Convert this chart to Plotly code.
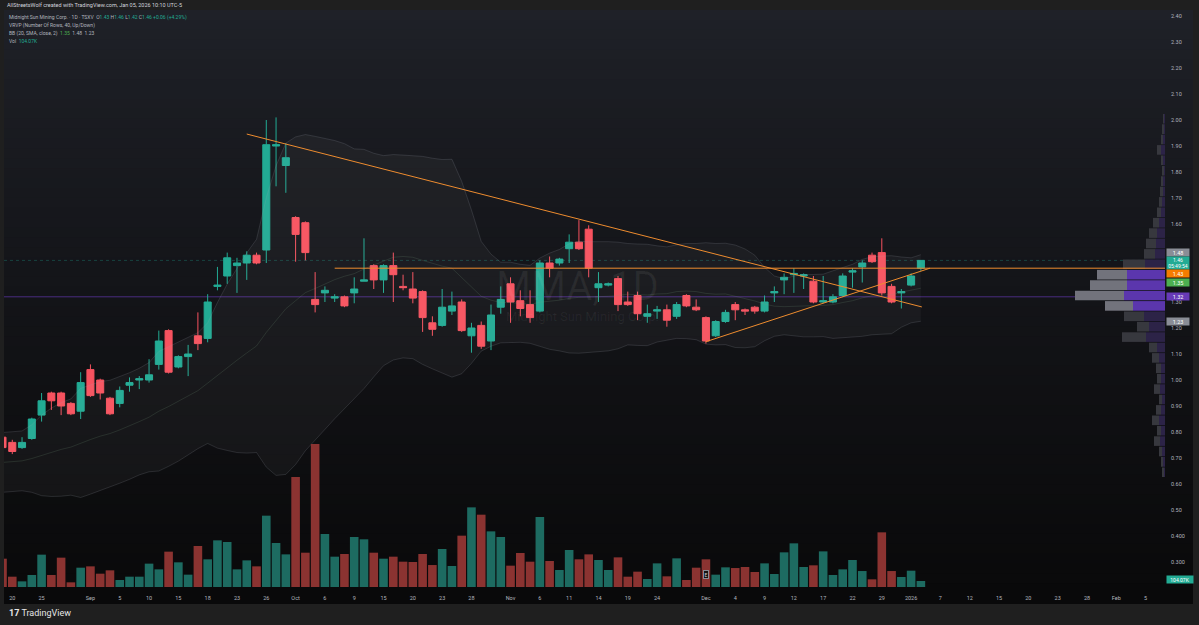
import plotly.graph_objects as go

# Midnight Sun Mining Corp. (TSXV: MMA) daily bars
dates = [
    "2025-08-19", "2025-08-20", "2025-08-21", "2025-08-22", "2025-08-25", "2025-08-26", "2025-08-27", "2025-08-28", "2025-08-29",
    "2025-09-02", "2025-09-03", "2025-09-04", "2025-09-05", "2025-09-08", "2025-09-09", "2025-09-10", "2025-09-11", "2025-09-12",
    "2025-09-15", "2025-09-16", "2025-09-17", "2025-09-18", "2025-09-19", "2025-09-22", "2025-09-23", "2025-09-24", "2025-09-25",
    "2025-09-26", "2025-09-29", "2025-09-30",
    "2025-10-01", "2025-10-02", "2025-10-03", "2025-10-06", "2025-10-07", "2025-10-08", "2025-10-09", "2025-10-10", "2025-10-14",
    "2025-10-15", "2025-10-16", "2025-10-17", "2025-10-20", "2025-10-21", "2025-10-22", "2025-10-23", "2025-10-24", "2025-10-27",
    "2025-10-28", "2025-10-29", "2025-10-30", "2025-10-31",
    "2025-11-03", "2025-11-04", "2025-11-05", "2025-11-06", "2025-11-07", "2025-11-10", "2025-11-11", "2025-11-12", "2025-11-13",
    "2025-11-14", "2025-11-17", "2025-11-18", "2025-11-19", "2025-11-20", "2025-11-21", "2025-11-24", "2025-11-25", "2025-11-26",
    "2025-11-27", "2025-11-28",
    "2025-12-01", "2025-12-02", "2025-12-03", "2025-12-04", "2025-12-05", "2025-12-08", "2025-12-09", "2025-12-10", "2025-12-11",
    "2025-12-12", "2025-12-15", "2025-12-16", "2025-12-17", "2025-12-18", "2025-12-19", "2025-12-22", "2025-12-23", "2025-12-24",
    "2025-12-29", "2025-12-30", "2025-12-31",
    "2026-01-02", "2026-01-05",
]
opens = [
    0.78, 0.76, 0.74, 0.775, 0.865, 0.95, 0.95, 0.91, 0.88,
    1.04, 1.00, 0.93, 0.91, 0.98, 1.00, 1.00, 1.06, 1.19, 1.05, 1.09, 1.17, 1.16, 1.36, 1.40, 1.44, 1.45, 1.48, 1.50, 1.90, 1.825,
    1.625, 1.605, 1.31, 1.335, 1.315, 1.32, 1.335, 1.38, 1.44, 1.385, 1.44, 1.36, 1.35, 1.34, 1.22, 1.21, 1.265, 1.30, 1.17, 1.21, 1.15, 1.28,
    1.37, 1.305, 1.29, 1.265, 1.45, 1.45, 1.505, 1.53, 1.58, 1.355, 1.365, 1.39, 1.30, 1.325, 1.245, 1.265, 1.27, 1.245, 1.325, 1.28,
    1.24, 1.17, 1.225, 1.29, 1.27, 1.28, 1.265, 1.335, 1.385, 1.405, 1.40, 1.38, 1.30, 1.30, 1.325, 1.415, 1.435, 1.48, 1.49, 1.36, 1.335,
    1.365, 1.43,
]
highs = [
    0.79, 0.77, 0.78, 0.855, 0.95, 0.955, 0.955, 0.915, 1.03,
    1.06, 1.005, 0.935, 0.975, 1.01, 1.015, 1.08, 1.19, 1.195, 1.095, 1.135, 1.26, 1.33, 1.435, 1.49, 1.47, 1.495, 1.49, 2.00, 2.01, 1.91,
    1.63, 1.61, 1.415, 1.36, 1.33, 1.325, 1.395, 1.545, 1.445, 1.445, 1.49, 1.405, 1.415, 1.345, 1.245, 1.35, 1.34, 1.31, 1.22, 1.225, 1.29, 1.36,
    1.395, 1.345, 1.345, 1.46, 1.475, 1.47, 1.56, 1.615, 1.595, 1.415, 1.375, 1.40, 1.34, 1.34, 1.29, 1.285, 1.29, 1.30, 1.33, 1.31,
    1.245, 1.23, 1.27, 1.30, 1.275, 1.285, 1.325, 1.36, 1.41, 1.43, 1.41, 1.40, 1.40, 1.33, 1.41, 1.43, 1.46, 1.49, 1.545, 1.37, 1.35,
    1.41, 1.46,
]
lows = [
    0.73, 0.715, 0.735, 0.77, 0.84, 0.885, 0.865, 0.865, 0.85,
    0.935, 0.925, 0.865, 0.895, 0.955, 0.965, 0.99, 1.04, 1.025, 1.045, 1.015, 1.115, 1.145, 1.345, 1.37, 1.335, 1.385, 1.445, 1.45, 1.745, 1.72,
    1.455, 1.46, 1.26, 1.30, 1.30, 1.28, 1.295, 1.38, 1.35, 1.335, 1.30, 1.345, 1.295, 1.185, 1.17, 1.205, 1.25, 1.185, 1.105, 1.12, 1.115, 1.255,
    1.22, 1.245, 1.22, 1.26, 1.395, 1.44, 1.45, 1.50, 1.395, 1.30, 1.36, 1.265, 1.285, 1.23, 1.22, 1.235, 1.205, 1.235, 1.28, 1.265,
    1.14, 1.165, 1.22, 1.23, 1.25, 1.255, 1.26, 1.30, 1.33, 1.335, 1.35, 1.295, 1.295, 1.295, 1.32, 1.355, 1.375, 1.45, 1.325, 1.295, 1.275,
    1.36, 1.42,
]
closes = [
    0.74, 0.725, 0.76, 0.85, 0.92, 0.92, 0.90, 0.87, 0.99,
    0.94, 0.95, 0.87, 0.96, 0.99, 1.005, 1.02, 1.15, 1.03, 1.09, 1.10, 1.14, 1.30, 1.365, 1.47, 1.45, 1.48, 1.45, 1.905, 1.905, 1.855,
    1.56, 1.49, 1.29, 1.345, 1.32, 1.285, 1.35, 1.385, 1.385, 1.44, 1.405, 1.355, 1.315, 1.24, 1.195, 1.28, 1.285, 1.19, 1.20, 1.13, 1.25, 1.31,
    1.30, 1.275, 1.24, 1.45, 1.43, 1.465, 1.53, 1.505, 1.43, 1.37, 1.37, 1.29, 1.29, 1.255, 1.255, 1.27, 1.23, 1.29, 1.285, 1.27,
    1.15, 1.225, 1.26, 1.27, 1.265, 1.265, 1.30, 1.34, 1.395, 1.41, 1.405, 1.30, 1.305, 1.32, 1.40, 1.42, 1.45, 1.455, 1.335, 1.30, 1.34,
    1.40, 1.46,
]
volume_k = [
    491, 179, 98, 208, 561, 208, 509, 81, 335,
    358, 231, 289, 121, 179, 179, 405, 306, 613, 428, 214, 711, 480, 809, 780, 306, 462, 358, 1237, 763, 566,
    1907, 595, 2480, 919, 526, 572, 867, 827, 595, 491, 526, 439, 434, 572, 381, 659, 364, 890, 1381, 1254, 965, 867,
    370, 590, 439, 1214, 451, 295, 642, 480, 566, 468, 295, 514, 179, 266, 139, 410, 185, 497, 121, 335,
    480, 214, 341, 329, 347, 260, 410, 225, 601, 757, 347, 376, 618, 208, 306, 468, 277, 133, 948, 277, 173,
    283, 104.07,
]

# Bollinger Bands (20, SMA, close, 2) as drawn
bb_basis = [
    0.683, 0.685, 0.689, 0.698, 0.710, 0.722, 0.733, 0.742, 0.758, 0.771,
    0.784, 0.794, 0.808, 0.823, 0.840, 0.857, 0.880, 0.898, 0.918, 0.939,
    0.959, 0.988, 1.018, 1.049, 1.076, 1.104, 1.131, 1.183, 1.229, 1.274,
    1.305, 1.336, 1.352, 1.370, 1.386, 1.399, 1.409, 1.427, 1.442, 1.459,
    1.472, 1.475, 1.472, 1.460, 1.448, 1.438, 1.430, 1.394, 1.359, 1.322,
    1.307, 1.298, 1.298, 1.295, 1.291, 1.299, 1.303, 1.307, 1.314, 1.318,
    1.319, 1.320, 1.322, 1.325, 1.330, 1.328, 1.327, 1.331, 1.332, 1.340,
    1.342, 1.340, 1.333, 1.330, 1.331, 1.322, 1.314, 1.304, 1.292, 1.284,
    1.282, 1.284, 1.286, 1.286, 1.287, 1.290, 1.298, 1.305, 1.316, 1.324,
    1.327, 1.328, 1.338, 1.345, 1.353,
]
bb_upper = [
    0.798, 0.800, 0.804, 0.828, 0.865, 0.892, 0.913, 0.927, 0.968, 0.981,
    0.994, 0.999, 1.013, 1.028, 1.045, 1.067, 1.110, 1.128, 1.148, 1.166,
    1.182, 1.220, 1.298, 1.369, 1.431, 1.489, 1.541, 1.701, 1.824, 1.911,
    1.935, 1.944, 1.937, 1.930, 1.921, 1.909, 1.889, 1.887, 1.872, 1.863,
    1.867, 1.865, 1.862, 1.860, 1.853, 1.848, 1.849, 1.764, 1.654, 1.533,
    1.484, 1.453, 1.453, 1.445, 1.441, 1.469, 1.488, 1.502, 1.524, 1.533,
    1.532, 1.533, 1.532, 1.530, 1.525, 1.523, 1.522, 1.516, 1.512, 1.520,
    1.525, 1.525, 1.528, 1.525, 1.526, 1.519, 1.504, 1.480, 1.433, 1.400,
    1.390, 1.400, 1.406, 1.406, 1.407, 1.420, 1.433, 1.445, 1.464, 1.474,
    1.477, 1.478, 1.473, 1.470, 1.482,
]
bb_lower = [
    0.568, 0.570, 0.574, 0.568, 0.555, 0.552, 0.553, 0.557, 0.548, 0.561,
    0.574, 0.589, 0.603, 0.618, 0.635, 0.647, 0.650, 0.668, 0.688, 0.712,
    0.736, 0.756, 0.738, 0.729, 0.721, 0.719, 0.721, 0.665, 0.633, 0.637,
    0.675, 0.728, 0.767, 0.810, 0.851, 0.889, 0.929, 0.967, 1.012, 1.055,
    1.077, 1.085, 1.082, 1.060, 1.043, 1.028, 1.011, 1.024, 1.064, 1.111,
    1.130, 1.143, 1.143, 1.145, 1.141, 1.129, 1.118, 1.112, 1.104, 1.103,
    1.106, 1.107, 1.112, 1.120, 1.135, 1.133, 1.132, 1.146, 1.152, 1.160,
    1.159, 1.155, 1.138, 1.135, 1.136, 1.125, 1.124, 1.128, 1.151, 1.168,
    1.174, 1.170, 1.166, 1.166, 1.167, 1.160, 1.163, 1.165, 1.168, 1.174,
    1.177, 1.178, 1.203, 1.220, 1.226,
]

# visible range volume profile (40 rows setting, only filled rows listed)
vp_price = [
    0.605, 0.645, 0.685, 0.725, 0.765, 0.805, 0.845, 0.885, 0.925, 0.965,
    1.005, 1.045, 1.085, 1.125, 1.165, 1.205, 1.245, 1.285, 1.325, 1.365,
    1.405, 1.445, 1.485, 1.525, 1.565, 1.605, 1.645, 1.685, 1.725, 1.765,
    1.805, 1.845, 1.885, 1.925, 1.965, 2.005,
]
vp_up_k = [0, 60, 120, 180, 300, 240, 360, 240, 180, 300,
           240, 240, 360, 480, 1140, 960, 1260, 1920, 2460, 2280,
           2280, 1200, 600, 540, 480, 360, 240, 180, 120, 120,
           60, 120, 240, 120, 60, 60]
vp_down_k = [0, 120, 120, 180, 360, 240, 420, 300, 180, 360,
             240, 300, 420, 480, 1440, 720, 1200, 1680, 2940, 2220,
             1800, 1320, 660, 600, 480, 360, 240, 180, 180, 120,
             120, 120, 240, 120, 120, 60]
value_area = (1.265, 1.425)
poc_price = 1.32

# user drawings (bar number, price)
trend_down_bar = [25, 94.1]
trend_down_px = [1.946, 1.281]
trend_up_bar = [71.97, 94.93]
trend_up_px = [1.147, 1.43]
hline_bar = 34
hline_price = 1.43

# time axis labels (bar number -> text), incl. future bars
tick_bars = [1, 4, 9, 12, 15, 18, 21, 24, 27, 30, 33, 36, 39, 42, 45, 48, 52, 55, 58, 61,
             64, 67, 72, 75, 78, 81, 84, 87, 90, 93, 96, 99, 102, 105, 108, 111, 114, 117]
tick_text = ["20", "25", "Sep", "5", "10", "15", "18", "23", "26", "Oct", "6", "9", "15", "20", "23", "28", "Nov", "6", "11", "14",
             "19", "24", "Dec", "4", "9", "12", "17", "22", "29", "2026", "7", "12", "15", "20", "23", "28", "Feb", "5"]
# 1.40 / 1.50 sit under the price tags, so they are not shown
price_ticks = [0.3, 0.4, 0.5, 0.6, 0.7, 0.8, 0.9, 1.0, 1.1, 1.2, 1.3, 1.6, 1.7, 1.8, 1.9, 2.0, 2.1, 2.2, 2.3, 2.4]
price_tick_text = ["0.300", "0.400", "0.50", "0.60", "0.70", "0.80", "0.90", "1.00", "1.10", "1.20", "1.30",
                   "1.60", "1.70", "1.80", "1.90", "2.00", "2.10", "2.20", "2.30", "2.40"]

UP, DOWN = "#22ab94", "#f7525f"
TXT = "#b2b5be"
FONT = "Roboto"

W, H = 1199, 625
ML, MR, MT, MB = 4, 34, 10, 38
PW, PH = W - ML - MR, H - MT - MB


def px(x):
    return (x - ML) / PW


def py(y):
    return (H - MB - y) / PH


bars = list(range(len(dates)))
is_up = [c >= o for o, c in zip(opens, closes)]

fig = go.Figure()

# bollinger fill + lines
fig.add_trace(go.Scatter(x=bars, y=bb_upper, mode="lines", line=dict(color="rgba(160,165,175,0.18)", width=1),
                         hoverinfo="skip"))
fig.add_trace(go.Scatter(x=bars, y=bb_lower, mode="lines", line=dict(color="rgba(160,165,175,0.18)", width=1),
                         fill="tonexty", fillcolor="rgba(255,255,255,0.035)", hoverinfo="skip"))
fig.add_trace(go.Scatter(x=bars, y=bb_basis, mode="lines", line=dict(color="rgba(120,160,125,0.18)", width=1),
                         hoverinfo="skip"))

# volume
fig.add_trace(go.Bar(x=bars, y=volume_k, yaxis="y3", width=0.88,
                     marker=dict(color=["#1d6b61" if u else "#8b3331" for u in is_up], line_width=0),
                     hoverinfo="skip"))

# volume profile (right side, grows leftwards)
in_va = [value_area[0] <= p <= value_area[1] for p in vp_price]
fig.add_trace(go.Bar(y=vp_price, x=vp_up_k, base=0, orientation="h", xaxis="x2", width=0.037,
                     marker=dict(color=["#5b36ad" if v else "#2c2347" for v in in_va], line_width=0),
                     hoverinfo="skip"))
fig.add_trace(go.Bar(y=vp_price, x=vp_down_k, base=vp_up_k, orientation="h", xaxis="x2", width=0.037,
                     marker=dict(color=["#72737c" if v else "#37383e" for v in in_va], line_width=0),
                     hoverinfo="skip"))

# candles
fig.add_trace(go.Candlestick(
    x=bars, open=opens, high=highs, low=lows, close=closes,
    increasing=dict(line=dict(color=UP, width=1), fillcolor=UP),
    decreasing=dict(line=dict(color=DOWN, width=1), fillcolor=DOWN),
    whiskerwidth=0, hoverinfo="skip",
))

# drawings
fig.add_trace(go.Scatter(x=trend_down_bar, y=trend_down_px, mode="lines", line=dict(color="#ee8c2f", width=1),
                         hoverinfo="skip"))
fig.add_trace(go.Scatter(x=trend_up_bar, y=trend_up_px, mode="lines", line=dict(color="#ee8c2f", width=1),
                         hoverinfo="skip"))

x_range = [(ML - 2.5) / 9.77, (ML + PW - 2.5) / 9.77]
y_range = [1 + (380 - (H - MB)) / 260, 1 + (380 - MT) / 260]

shapes = []
# chart background gradient
n = 60
top_c, bot_c = (31, 33, 40), (9, 9, 10)
for k in range(n):
    t = (k / (n - 1)) ** 0.85
    c = [round(a + (b - a) * t) for a, b in zip(top_c, bot_c)]
    y0 = MT + (603 - MT) * k / n
    y1 = MT + (603 - MT) * (k + 1) / n + 1
    shapes.append(dict(type="rect", xref="paper", yref="paper", x0=px(4), x1=px(1193),
                       y0=py(y1), y1=py(y0), fillcolor="rgb(%d,%d,%d)" % tuple(c),
                       line_width=0, layer="below"))
# POC line, last price line, horizontal 1.43 line
shapes.append(dict(type="line", xref="paper", yref="y", x0=0, x1=1, y0=poc_price, y1=poc_price,
                   line=dict(color="rgba(103,58,183,0.65)", width=1), layer="below"))
shapes.append(dict(type="line", xref="paper", yref="y", x0=0, x1=1, y0=closes[-1], y1=closes[-1],
                   line=dict(color="rgba(34,171,148,0.3)", width=1, dash="dot"), layer="below"))
shapes.append(dict(type="line", xref="x", yref="y", x0=hline_bar, x1=x_range[1], y0=hline_price, y1=hline_price,
                   line=dict(color="#ee8c2f", width=1)))

ann = []


def txt(x, y, text, size=5.5, color=TXT, **kw):
    ann.append(dict(x=px(x), y=py(y), xref="paper", yref="paper", text=text, showarrow=False,
                    xanchor=kw.pop("xanchor", "left"), yanchor="middle",
                    font=dict(family=FONT, size=size, color=color), **kw))


def span(v, color):
    return "<span style='color:%s'>%s</span>" % (color, v)


txt(5, 5, "AllStreetsWolf created with TradingView.com, Jan 05, 2026 10:10 UTC-5", 5.5, "#d1d4dc")
chg = closes[-1] - closes[-2]
txt(7, 17, "Midnight Sun Mining Corp. · 1D · TSXV  O" + span("%.2f" % opens[-1], UP)
    + " H" + span("%.2f" % highs[-1], UP) + " L" + span("%.2f" % lows[-1], UP)
    + " C" + span("%.2f" % closes[-1], UP)
    + " " + span("+%.2f (+%.2f%%)" % (chg, chg / closes[-2] * 100), UP), 5)
txt(7, 25.5, "VRVP (Number Of Rows, 40, Up/Down)", 5)
txt(7, 33.5, "BB (20, SMA, close, 2)  " + span("%.2f" % bb_basis[-1], "#4caf50") + "  "
    + span("%.2f" % bb_upper[-1], TXT) + "  " + span("%.2f" % bb_lower[-1], TXT), 5)
txt(7, 41, "Vol  " + span("%.2fK" % volume_k[-1], UP), 5)

# watermark
txt(577, 287, "MMA, 1D", 40, "rgba(255,255,255,0.06)", xanchor="center")
txt(582, 316, "Midnight Sun Mining Corp.", 13, "rgba(255,255,255,0.06)", xanchor="center")

# earnings marker
ann.append(dict(x=72, y=py(579), xref="x", yref="paper", text="E", showarrow=False,
                font=dict(family=FONT, size=5, color="#d1d4dc"), bgcolor="#131313",
                bordercolor="#8a8d96", borderwidth=1, borderpad=0.5))


def tag(price, text, bg, shift=0, fg="#ffffff", size=5.5, h=6):
    ann.append(dict(x=px(1166), y=price, xref="paper", yref="y", text=text, showarrow=False,
                    xanchor="left", yanchor="middle", yshift=shift, width=21, height=h, align="center",
                    valign="middle", bgcolor=bg, borderpad=0.5, font=dict(family=FONT, size=size, color=fg)))


tag(bb_upper[-1], "%.2f" % bb_upper[-1], "#8a8d96", 2)
tag(closes[-1], "%.2f<br>05:49:54" % closes[-1], UP, -3, size=5, h=11)
tag(hline_price, "%.2f" % hline_price, "#f57c00", -5)
tag(bb_basis[-1], "%.2f" % bb_basis[-1], "#4caf50", 6)
tag(poc_price, "%.2f" % poc_price, "#673ab7", 0)
tag(bb_lower[-1], "%.2f" % bb_lower[-1], "#8a8d96", 0)
ann.append(dict(x=px(1166), y=py(579), xref="paper", yref="paper", text="%.2fK" % volume_k[-1],
                showarrow=False, xanchor="left", yanchor="middle", width=25, height=6, bgcolor=UP, borderpad=0.5,
                font=dict(family=FONT, size=5, color="#ffffff")))

# footer logo
txt(7, 613, "<b>17</b> TradingView", 9, "#e6e6e6")

vol_top = 577 * 17.34

fig.update_layout(
    width=W, height=H,
    margin=dict(l=ML, r=MR, t=MT, b=MB),
    paper_bgcolor="#1f1f1f",
    plot_bgcolor="rgba(0,0,0,0)",
    showlegend=False,
    barmode="overlay",
    boxgap=0.1, boxgroupgap=0.2,
    font=dict(family=FONT, size=5.5, color=TXT),
    xaxis=dict(range=x_range, tickmode="array", tickvals=tick_bars, ticktext=tick_text,
               showgrid=False, zeroline=False, showline=False, ticks="", ticklabelstandoff=6,
               rangeslider=dict(visible=False), tickfont=dict(size=5.5, color=TXT)),
    xaxis2=dict(overlaying="x", range=[PW * 60, 0], visible=False),
    yaxis=dict(range=y_range, side="right", tickmode="array", tickvals=price_ticks, ticktext=price_tick_text,
               showgrid=False, zeroline=False, showline=False, ticks="", ticklabelstandoff=5,
               tickfont=dict(size=5.5, color=TXT)),
    yaxis3=dict(overlaying="y", range=[0, vol_top], visible=False),
    shapes=shapes,
    annotations=ann,
)

fig.write_html("out.html", config={"displayModeBar": False},
               post_script="document.body.style.margin='0';document.body.style.overflow='hidden';")
